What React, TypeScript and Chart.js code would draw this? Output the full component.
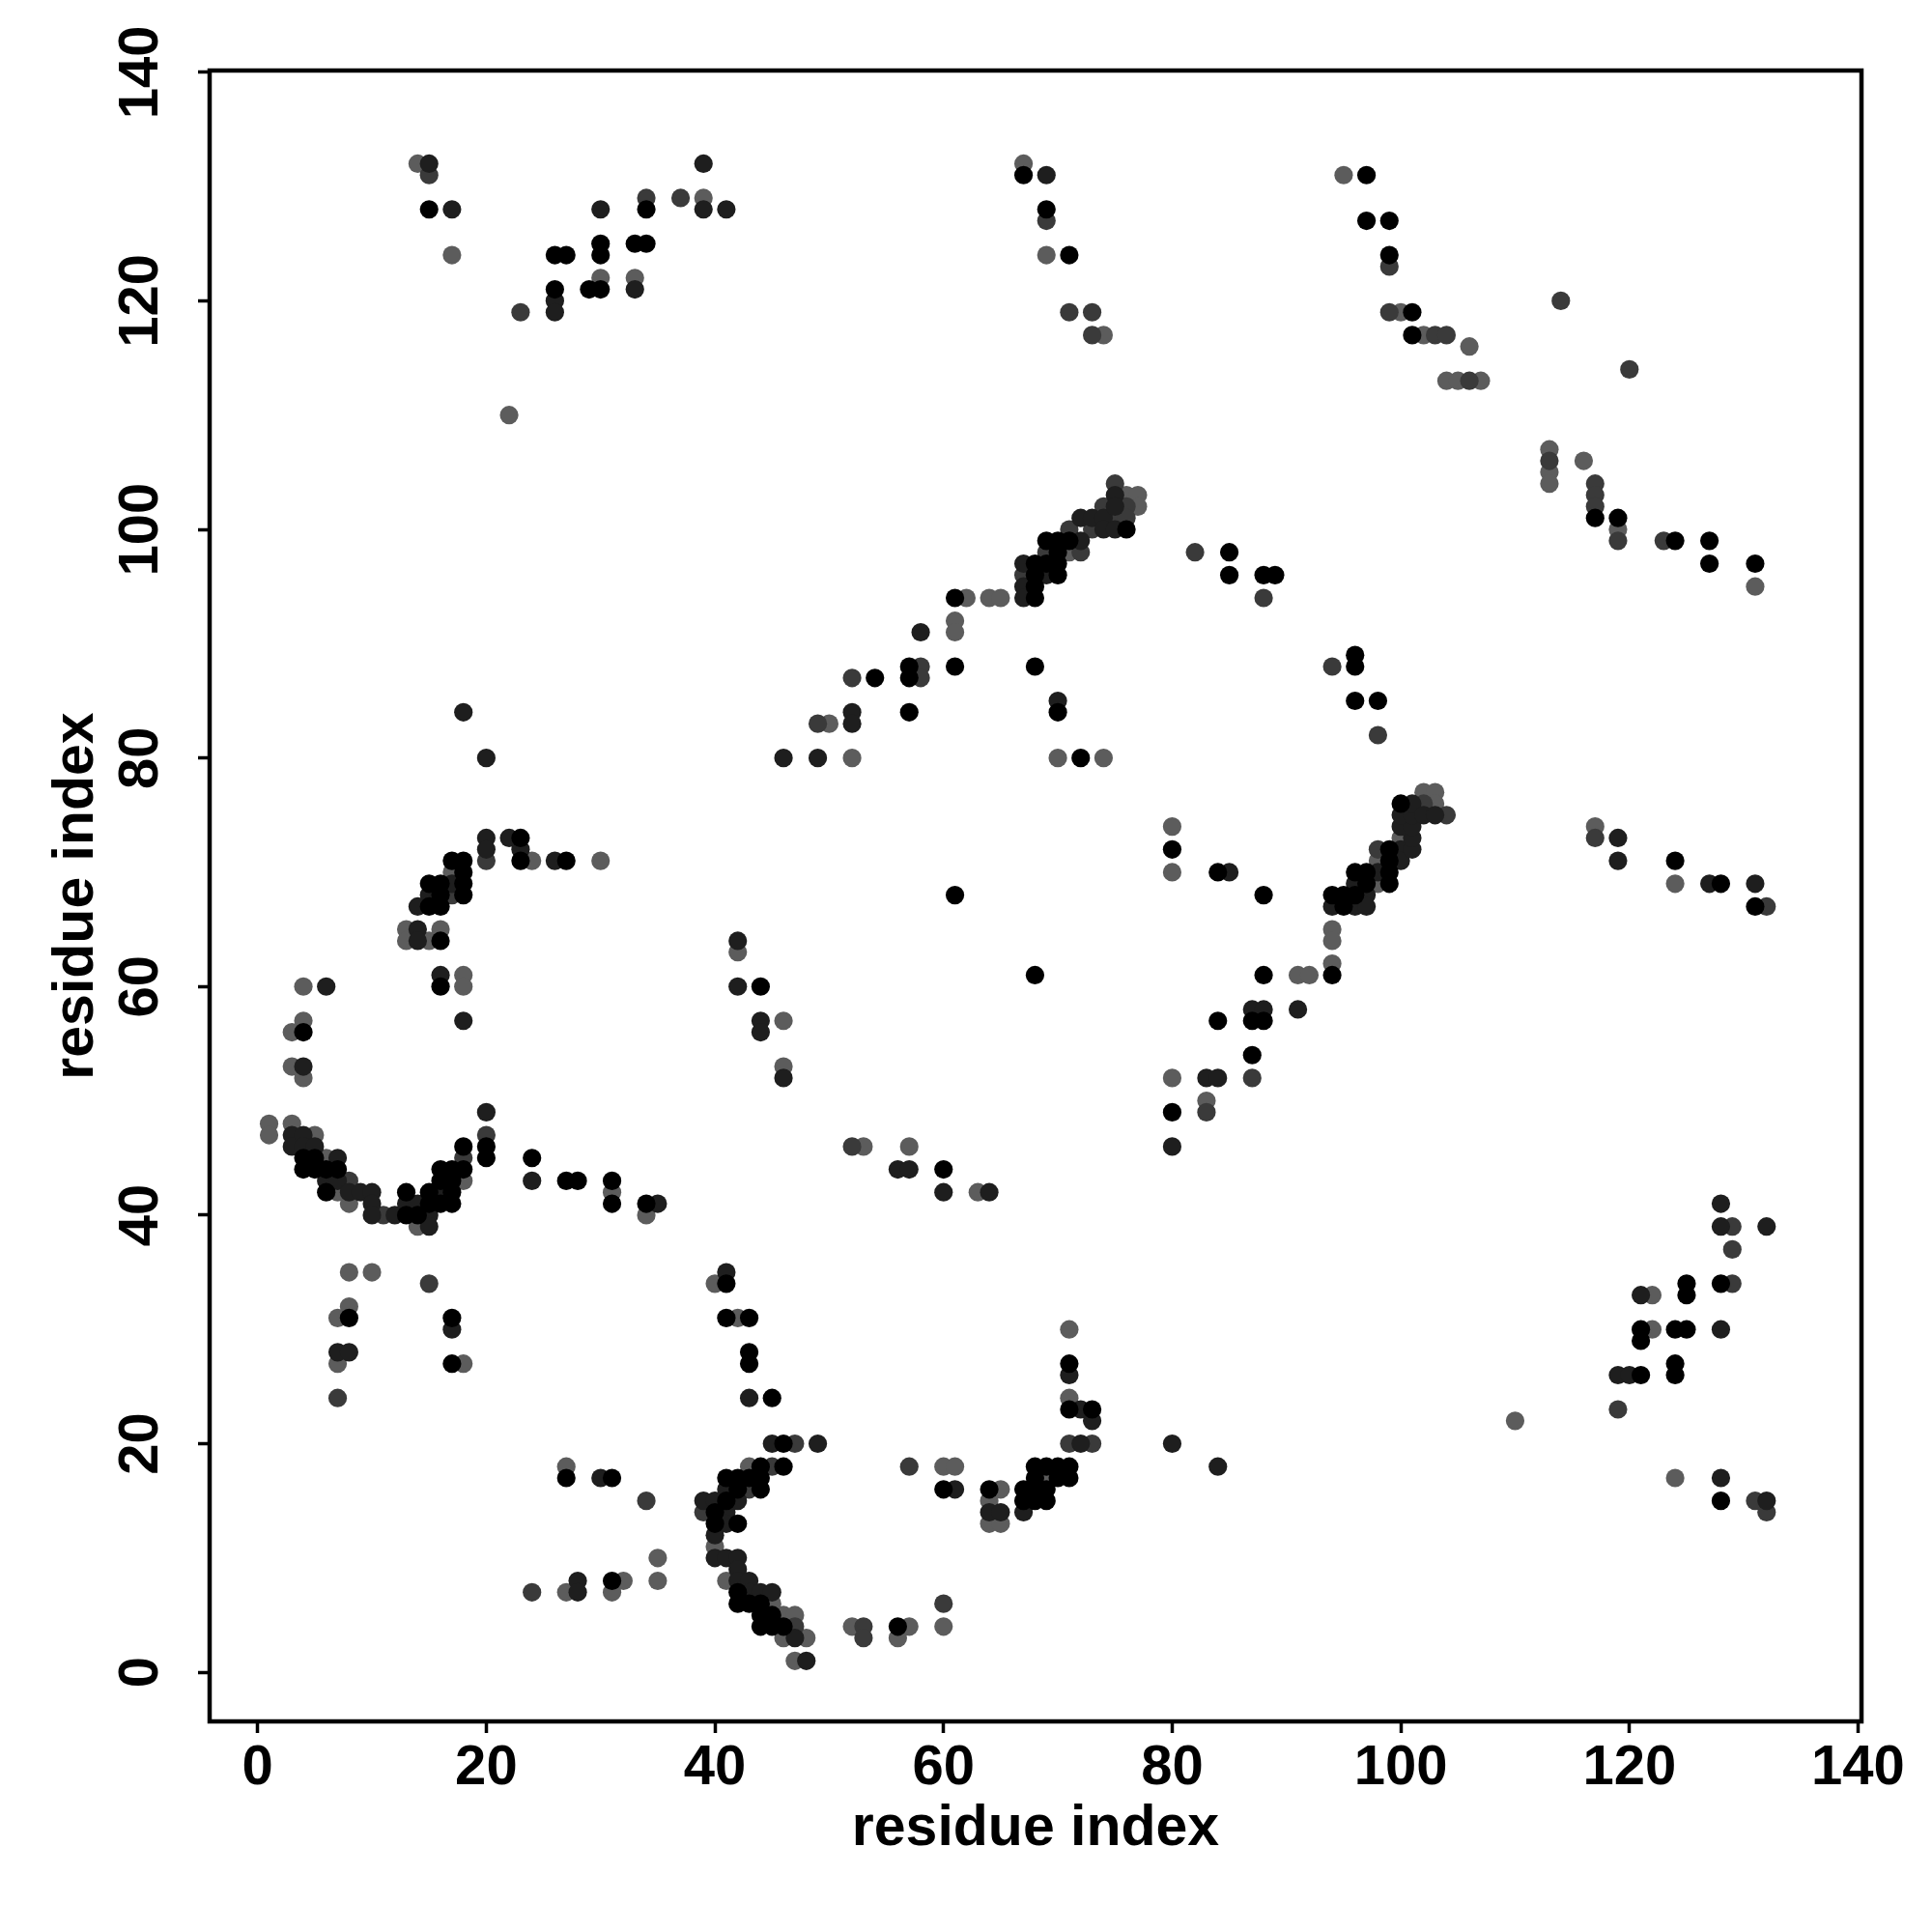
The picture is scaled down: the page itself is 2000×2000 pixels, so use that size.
import React, { useEffect, useRef } from "react";
import { Chart, registerables } from "chart.js";

Chart.register(...registerables);

// shade index: 0 = black, 1 = very dark grey, 2 = dark grey, 3 = grey
const SHADES = ["#000000", "#1e1e1e", "#3a3a3a", "#5c5c5c"];
const X_TICKS = [0, 20, 40, 60, 80, 100, 120, 140];
const Y_TICKS = [0, 20, 40, 60, 80, 100, 120, 140];
const X_LABEL = "residue index";
const Y_LABEL = "residue index";

// [x residue, y residue, shade]
const topLeft = [
  [14,132,3],[15,132,1],[15,131,2],[15,128,0],[17,128,1],[17,124,3],
  [22,110,3],[23,119,2],
  [26,124,0],[27,124,0],[26,121,0],[26,120,1],[26,119,1],
  [29,121,0],[30,121,0],[30,122,3],[30,124,0],[30,125,0],[30,128,1],
  [33,125,0],[34,125,0],[33,122,3],[33,121,1],
  [34,129,2],[34,128,0],[37,129,2],[39,132,1],[39,129,3],[39,128,1],[41,128,1],
];

const topMiddle = [
  [67,132,3],[67,131,0],[69,131,1],[69,128,0],[69,127,2],[69,124,3],[71,124,0],
  [71,119,2],[73,119,2],[73,117,2],[74,117,3],
];

const topRight = [
  [95,131,3],[97,131,0],[97,127,0],[99,127,0],[99,124,0],[99,123,2],[99,119,2],[100,119,3],[101,119,0],
  [101,117,0],[102,117,3],[103,117,2],[104,117,2],[106,116,3],
  [104,113,3],[105,113,3],[106,113,2],[107,113,3],
  [114,120,2],[120,114,2],
  [113,107,3],[113,106,2],[113,105,3],[113,104,3],[116,106,3],
  [117,104,2],[117,103,2],[117,102,2],[117,101,0],
  [119,101,0],[119,100,3],[119,99,2],
  [123,99,2],[124,99,0],[127,99,0],[127,97,0],[131,97,0],[131,95,3],
];

const upperDiagonal = [
  [46,80,1],[49,80,1],[52,80,3],[49,83,2],[50,83,3],[52,84,1],[52,83,1],[52,87,2],[54,87,0],
  [57,88,0],[57,87,0],[58,88,2],[58,87,2],[57,84,0],[61,88,0],
  [58,91,1],[61,92,3],[61,91,3],[61,94,0],[62,94,3],[64,94,3],[65,94,3],
  [67,97,1],[67,96,2],[67,95,1],[67,94,1],[68,97,0],[68,96,0],[68,95,0],[68,94,0],
  [69,99,0],[69,98,2],[69,97,0],[69,96,1],[70,99,0],[70,98,0],[70,97,0],[70,96,0],
  [71,100,2],[71,99,0],[71,98,3],[72,101,1],[72,99,1],[72,98,2],
  [73,101,1],[73,100,2],[74,101,1],[74,100,1],[74,102,2],
  [75,104,2],[75,103,1],[75,102,1],[75,101,2],[75,100,1],
  [76,103,3],[76,102,2],[76,101,2],[76,100,0],[77,103,3],[77,102,3],
  [68,88,0],[70,85,1],[70,84,0],[70,80,3],[72,80,0],[74,80,3],
];

const midRight = [
  [82,98,2],[85,98,0],[85,96,0],[88,96,0],[89,96,0],[88,94,2],
  [94,88,2],[96,89,0],[96,88,0],[96,85,0],[98,85,0],[98,82,2],
];

const lowerDiagonal = [
  [80,74,3],[80,72,0],[80,70,3],[84,70,0],[85,70,1],[88,68,0],[88,61,0],[91,61,3],[92,61,3],
  [94,65,3],[94,64,3],[94,62,3],[94,61,0],[91,58,1],[87,58,1],[88,58,1],[87,57,0],[88,57,0],[84,57,0],[87,54,0],
  [80,52,3],[83,52,1],[84,52,1],[87,52,2],[83,50,3],[83,49,2],[80,49,0],[80,46,1],
  [94,68,0],[95,68,0],[96,68,0],[97,68,1],[94,67,1],[95,67,0],[96,67,1],[97,67,1],
  [96,70,0],[97,70,0],[96,69,1],[97,69,0],[98,70,1],[99,70,0],[98,69,3],[99,69,0],
  [98,72,2],[99,72,0],[100,72,1],[98,71,3],[99,71,0],[100,71,1],[101,72,1],
  [100,73,3],[101,73,1],[100,74,1],[101,74,1],[100,75,1],[101,75,1],[100,76,0],[101,76,1],
  [102,77,3],[103,77,3],[102,76,2],[103,76,3],[102,75,1],[103,75,1],[104,75,2],
];

const rightMiddle = [
  [117,74,3],[117,73,2],[119,73,1],[119,71,1],[124,71,0],[124,69,3],
  [127,69,1],[128,69,0],[131,69,1],[131,67,0],[132,67,2],
];

const leftUpper = [
  [18,84,1],[20,80,1],
  [20,73,1],[20,72,1],[20,71,2],[22,73,1],[23,73,0],[23,72,1],[23,71,0],[24,71,3],[26,71,1],[27,71,0],[30,71,3],
  [17,71,0],[18,71,0],[17,70,3],[18,70,0],[17,69,1],[18,69,0],[17,68,2],[18,68,0],
  [15,69,0],[16,69,0],[15,68,1],[16,68,0],[14,67,1],[15,67,0],[16,67,0],
  [13,65,3],[13,64,3],[14,65,1],[14,64,1],[15,64,3],[16,65,3],[16,64,0],
  [16,61,1],[16,60,0],[18,61,3],[18,60,3],[18,57,1],
  [4,60,3],[6,60,1],[4,57,3],[3,56,3],[4,56,0],[3,53,3],[4,53,1],[4,52,3],
];

const leftArc = [
  [1,48,3],[1,47,3],[3,48,3],[3,47,1],[3,46,1],[4,47,1],[4,46,1],[4,45,0],[4,44,0],
  [5,47,3],[5,46,1],[5,45,0],[5,44,0],[6,45,3],[6,44,0],[6,43,1],[6,42,0],
  [7,45,1],[7,44,0],[7,43,1],[7,42,3],[8,43,2],[8,42,1],[8,41,3],
  [9,42,1],[10,42,1],[10,41,1],[10,40,1],[11,40,2],[12,40,1],[13,42,0],[13,41,1],[13,40,0],
  [14,41,1],[14,40,0],[14,39,3],[15,42,0],[15,41,0],[15,40,1],[15,39,1],
  [16,44,0],[16,43,0],[16,42,1],[16,41,0],[17,44,0],[17,43,0],[17,42,0],[17,41,0],
  [18,46,0],[18,45,2],[18,44,0],[18,43,3],[20,49,1],[20,47,2],[20,46,0],[20,45,0],
];

const midLeft = [
  [24,45,0],[24,43,1],[27,43,0],[28,43,0],[31,43,0],[31,42,3],[31,41,0],[34,41,0],[35,41,1],[34,40,3],
];

const center = [
  [42,64,1],[42,63,3],[42,60,1],[44,60,0],[44,57,1],[44,56,1],[46,57,3],[46,53,3],[46,52,1],
  [52,46,2],[53,46,3],[57,46,3],[56,44,1],[57,44,1],[60,44,0],[60,42,1],[63,42,3],[64,42,1],
  [61,68,0],[68,61,0],
];

const lowerLeft = [
  [8,35,3],[10,35,3],[15,34,2],[8,32,3],[7,31,3],[8,31,0],[17,31,0],[17,30,1],
  [7,28,1],[8,28,1],[7,27,3],[17,27,0],[18,27,3],[7,24,2],
];

const bottomLeft = [
  [27,18,3],[27,17,0],[30,17,1],[31,17,0],[34,15,2],[35,10,3],[35,8,3],
  [24,7,2],[27,7,3],[28,8,1],[28,7,1],[31,8,0],[32,8,3],[31,7,3],
];

const bottomArc = [
  [41,35,1],[40,34,3],[41,34,0],[41,31,0],[42,31,3],[43,31,0],[43,28,0],[43,27,0],[43,24,1],[45,24,0],
  [45,20,1],[46,20,0],[47,20,2],[49,20,1],[43,18,3],[44,18,0],[45,18,2],[46,18,0],
  [41,17,0],[42,17,0],[43,17,0],[44,17,0],[41,16,1],[42,16,0],[43,16,2],[44,16,0],
  [39,15,1],[40,15,1],[41,15,0],[42,15,1],[39,14,2],[40,14,0],[41,14,1],
  [40,13,0],[41,13,1],[42,13,0],[40,12,1],[40,11,3],[40,10,1],[41,10,1],[42,10,1],[42,9,1],
  [41,8,3],[42,8,1],[43,8,1],[42,7,0],[43,7,1],[44,7,1],[45,7,1],[42,6,0],[43,6,0],[44,6,0],[45,6,3],
  [44,5,0],[45,5,0],[46,5,3],[47,5,3],[44,4,0],[45,4,0],[46,4,0],[47,4,2],
  [46,3,3],[47,3,1],[48,3,3],[47,1,3],[48,1,1],
];

const bottomMiddle = [
  [52,4,3],[53,4,2],[53,3,2],[56,4,0],[57,4,3],[56,3,3],[60,6,2],[60,4,3],
  [57,18,2],[60,18,3],[61,18,3],[60,16,0],[61,16,1],[64,16,0],[65,16,3],
  [64,15,3],[64,14,1],[65,14,1],[64,13,3],[65,13,3],
];

const bottomCluster = [
  [67,16,0],[67,15,0],[67,14,1],[68,18,0],[68,17,0],[68,16,0],[68,15,0],
  [69,18,0],[69,17,3],[69,16,0],[69,15,0],[70,18,0],[70,17,0],[71,18,0],[71,17,0],
  [71,30,3],[71,27,0],[71,26,1],[71,24,3],[71,23,0],[72,23,1],[73,23,0],[73,22,1],
  [71,20,2],[72,20,1],[73,20,2],[80,20,1],[84,18,1],
];

const bottomRight = [
  [110,22,3],[119,23,2],[119,26,1],[120,26,1],[121,26,0],[124,27,0],[124,26,0],
  [121,30,0],[121,29,0],[122,30,3],[124,30,0],[125,30,0],[128,30,1],
  [121,33,1],[122,33,3],[125,34,0],[125,33,0],[128,34,0],[129,34,2],
  [128,41,1],[128,39,1],[129,39,2],[132,39,1],[129,37,2],
  [124,17,3],[128,17,1],[128,15,0],[131,15,2],[132,15,1],[132,14,2],
];

const ALL_POINTS = [
  ...topLeft, ...topMiddle, ...topRight, ...upperDiagonal, ...midRight, ...lowerDiagonal,
  ...rightMiddle, ...leftUpper, ...leftArc, ...midLeft, ...center, ...lowerLeft,
  ...bottomLeft, ...bottomArc, ...bottomMiddle, ...bottomCluster, ...bottomRight,
];

const FONT_FAMILY = "'Liberation Sans', Arial, Helvetica, sans-serif";

const framePlugin = {
  id: "frame",
  afterDraw(chart: any) {
    const { ctx, chartArea: a } = chart;
    ctx.save();
    ctx.strokeStyle = "#000";
    ctx.lineWidth = 4.5;
    ctx.strokeRect(a.left, a.top, a.right - a.left, a.bottom - a.top);
    ctx.restore();
  },
};

export default function App() {
  const ref = useRef<HTMLCanvasElement>(null);

  useEffect(() => {
    if (!ref.current) return;
    const datasets = SHADES.map((color, s) => ({
      label: "shade " + s,
      data: ALL_POINTS.filter((p) => p[2] === s).map((p) => ({ x: p[0], y: p[1] })),
      backgroundColor: color,
      borderWidth: 0,
      pointRadius: 9.6,
      pointHoverRadius: 9.6,
      pointStyle: "circle",
    }));

    const chart = new Chart(ref.current, {
      type: "scatter",
      data: { datasets },
      plugins: [framePlugin],
      options: {
        animation: false,
        responsive: false,
        devicePixelRatio: 1,
        events: [],
        layout: { padding: { left: 0, top: 73, right: 73, bottom: 0 } },
        plugins: { legend: { display: false }, tooltip: { enabled: false } },
        scales: {
          x: {
            type: "linear",
            min: -4.2,
            max: 140.3,
            afterBuildTicks: (scale: any) => {
              scale.ticks = X_TICKS.map((v) => ({ value: v }));
            },
            afterFit: (scale: any) => {
              scale.height = 218;
            },
            grid: {
              display: true,
              drawOnChartArea: false,
              drawTicks: true,
              tickLength: 12,
              tickWidth: 3.5,
              tickColor: "#000",
            },
            border: { display: false },
            ticks: {
              autoSkip: false,
              maxRotation: 0,
              minRotation: 0,
              padding: 2,
              color: "#000",
              font: { family: FONT_FAMILY, size: 58, weight: "bold" },
              callback: (v: any) => String(v),
            },
            title: {
              display: true,
              text: X_LABEL,
              color: "#000",
              font: { family: FONT_FAMILY, size: 59, weight: "bold" },
              padding: { top: 0, bottom: 71 },
            },
          },
          y: {
            type: "linear",
            min: -4.3,
            max: 140.15,
            afterBuildTicks: (scale: any) => {
              scale.ticks = Y_TICKS.map((v) => ({ value: v }));
            },
            afterFit: (scale: any) => {
              scale.width = 217;
            },
            grid: {
              display: true,
              drawOnChartArea: false,
              drawTicks: true,
              tickLength: 12,
              tickWidth: 3.5,
              tickColor: "#000",
            },
            border: { display: false },
            ticks: {
              autoSkip: false,
              minRotation: 90,
              maxRotation: 90,
              crossAlign: "center",
              padding: 10,
              color: "#000",
              font: { family: FONT_FAMILY, size: 58, weight: "bold" },
              callback: (v: any) => String(v),
            },
            title: {
              display: true,
              text: Y_LABEL,
              color: "#000",
              font: { family: FONT_FAMILY, size: 59, weight: "bold" },
              padding: { top: 44, bottom: 0 },
            },
          },
        },
      } as any,
    });
    return () => chart.destroy();
  }, []);

  return (
    <div style={{ position: "absolute", left: 0, top: 0, width: 2000, height: 2000, background: "#fff" }}>
      <canvas ref={ref} width={2000} height={2000} style={{ width: 2000, height: 2000, display: "block" }} />
    </div>
  );
}
